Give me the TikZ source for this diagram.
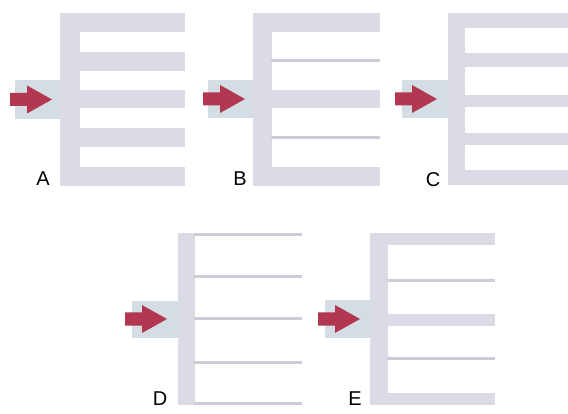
\documentclass[tikz,border=0pt]{standalone}
\usepackage{fontspec}
\setmainfont{Liberation Sans}
\definecolor{mgray}{RGB}{219,219,229}
\definecolor{lgray}{RGB}{205,205,218}
\definecolor{inletc}{RGB}{212,220,228}
\definecolor{arrowc}{RGB}{178,56,82}
\newcommand{\myarrow}[2]{%
  \fill[arrowc] (#1-42,#2-6.5) -- (#1-25,#2-6.5) -- (#1-25,#2-14) -- (#1,#2)
    -- (#1-25,#2+14) -- (#1-25,#2+6.5) -- (#1-42,#2+6.5) -- cycle;}
\tikzset{
  pipe/.style={fill=mgray},
  inlet/.style={fill=inletc},
  thinline/.style={draw=lgray, line width=3pt},
  lbl/.style={font=\fontsize{20}{20}\selectfont, inner sep=0pt, anchor=base}
}
\begin{document}
\begin{tikzpicture}[x=1pt,y=-1pt]
\useasboundingbox[fill=white] (0,0) rectangle (568,414);
% ---------- A ----------
\fill[inlet] (15,80) rectangle (61,119);
\fill[pipe] (60,13) rectangle (80,186);
\foreach \a/\b in {13/32,52/71,90/108,128/147,167/186}
  \fill[pipe] (79,\a) rectangle (185,\b);
\myarrow{52}{99.5}
\node[lbl] (la) at (43,185.5) {A};
% ---------- B ----------
\fill[inlet] (208,80) rectangle (254,118);
\fill[pipe] (253,13) rectangle (272,186);
\foreach \a/\b in {13/32,90/108,167/186}
  \fill[pipe] (271,\a) rectangle (380,\b);
\foreach \y in {61,138}
  \draw[thinline] (271,\y) -- (380,\y);
\myarrow{245}{99}
\node[lbl] (lb) at (240,185.5) {B};
% ---------- C ----------
\fill[inlet] (402,80) rectangle (449,118);
\fill[pipe] (448,13) rectangle (465,185);
\foreach \a/\b in {13/28,53/67,95/107,133/145,170/185}
  \fill[pipe] (464,\a) rectangle (568,\b);
\myarrow{437}{99}
\node[lbl] (lc) at (433,187) {C};
% ---------- D ----------
\fill[inlet] (132,301) rectangle (179,338);
\fill[pipe] (178,233) rectangle (195,405);
\foreach \y in {234.5,277,319,362,403.5}
  \draw[thinline] (194,\y) -- (302,\y);
\myarrow{167}{319}
\node[lbl] (ld) at (160,405) {D};
% ---------- E ----------
\fill[inlet] (325,300) rectangle (371,338);
\fill[pipe] (370,233) rectangle (388,405);
\foreach \a/\b in {233/245,314/326,393/405}
  \fill[pipe] (387,\a) rectangle (495,\b);
\foreach \y in {281,358}
  \draw[thinline] (387,\y) -- (495,\y);
\myarrow{360}{319}
\node[lbl] (le) at (355,405) {E};
\end{tikzpicture}
\end{document}
